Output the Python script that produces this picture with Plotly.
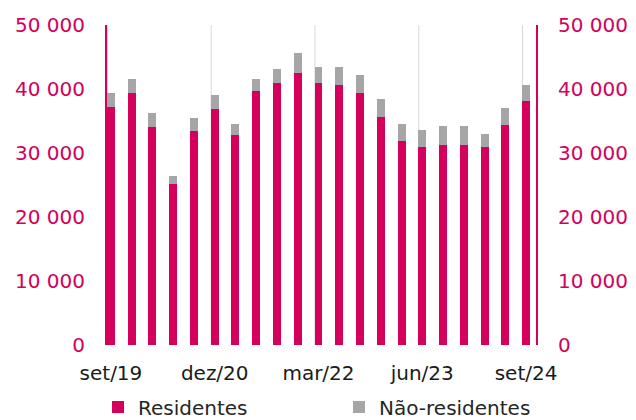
import plotly.graph_objects as go

quarters = ["set/19", "dez/19", "mar/20", "jun/20", "set/20", "dez/20", "mar/21", "jun/21",
            "set/21", "dez/21", "mar/22", "jun/22", "set/22", "dez/22", "mar/23", "jun/23",
            "set/23", "dez/23", "mar/24", "jun/24", "set/24"]
residentes = [37230, 39420, 34110, 25160, 33490, 36920, 32870, 39740, 40990, 42550, 40990,
              40680, 39420, 35680, 31930, 30990, 31300, 31300, 30990, 34430, 38180]
totais = [39420, 41610, 36300, 26410, 35420, 39120, 34480, 41610, 43180, 45680, 43490,
          43490, 42240, 38490, 34480, 33540, 34170, 34170, 32920, 36980, 40680]
nao_residentes = [t - r for t, r in zip(totais, residentes)]
tick_labels = ["set/19", "dez/20", "mar/22", "jun/23", "set/24"]

PINK = "#d4005c"
GRAY = "#a6a6a6"
FONT = "DejaVu Sans"

W, H = 628, 412  # page has an 8px body margin

idx = list(range(len(quarters)))
tick_idx = [quarters.index(t) for t in tick_labels]

fig = go.Figure()
fig.add_trace(go.Bar(x=idx, y=residentes, name="Residentes", marker_color=PINK,
                     marker_line_width=0, width=0.385, legend="legend"))
fig.add_trace(go.Bar(x=idx, y=nao_residentes, name="Não-residentes", marker_color=GRAY,
                     marker_line_width=0, width=0.385, legend="legend2"))
fig.add_trace(go.Scatter(x=[None], y=[None], yaxis="y2", showlegend=False, hoverinfo="skip"))

shapes = []
for t in tick_idx:
    shapes.append(dict(type="line", xref="x", yref="y", x0=t - 0.17, x1=t - 0.17, y0=0, y1=50000,
                       line=dict(color="#d9d9d9", width=1), layer="below"))

leg_common = dict(orientation="h", xref="container", yref="container", xanchor="left",
                  yanchor="middle", y=1 - (407 - 8) / H,
                  font=dict(size=20, color="#262626"), bgcolor="rgba(0,0,0,0)")

fig.update_layout(
    width=W, height=H,
    margin=dict(l=99, r=W - 99 - 429, t=17, b=H - 17 - 320, autoexpand=False),
    paper_bgcolor="white", plot_bgcolor="white",
    barmode="stack", bargap=0,
    separators=", ",
    font=dict(family=FONT, size=20, color="#1a1a1a"),
    showlegend=True,
    legend=dict(leg_common, x=(98 - 8) / W),
    legend2=dict(leg_common, x=(339 - 8) / W),
    xaxis=dict(range=[-0.19, 20.48], tickvals=tick_idx, ticktext=tick_labels,
               showgrid=False, zeroline=False, showline=False, automargin=False,
               ticks="outside", ticklen=10, tickcolor="rgba(0,0,0,0)",
               tickfont=dict(size=20, color="#1a1a1a")),
    yaxis=dict(range=[0, 50000], dtick=10000, tickformat=",d", showgrid=False, zeroline=False,
               showline=True, linecolor=PINK, linewidth=2, automargin=False,
               ticks="outside", ticklen=16, tickcolor="rgba(0,0,0,0)",
               tickfont=dict(size=20, color=PINK)),
    yaxis2=dict(range=[0, 50000], dtick=10000, tickformat=",d", overlaying="y", side="right",
                showgrid=False, zeroline=False, showline=True, linecolor=PINK, linewidth=2,
                automargin=False,
                ticks="outside", ticklen=16, tickcolor="rgba(0,0,0,0)",
                tickfont=dict(size=20, color=PINK)),
    shapes=shapes,
)

fig.write_html("out.html")
